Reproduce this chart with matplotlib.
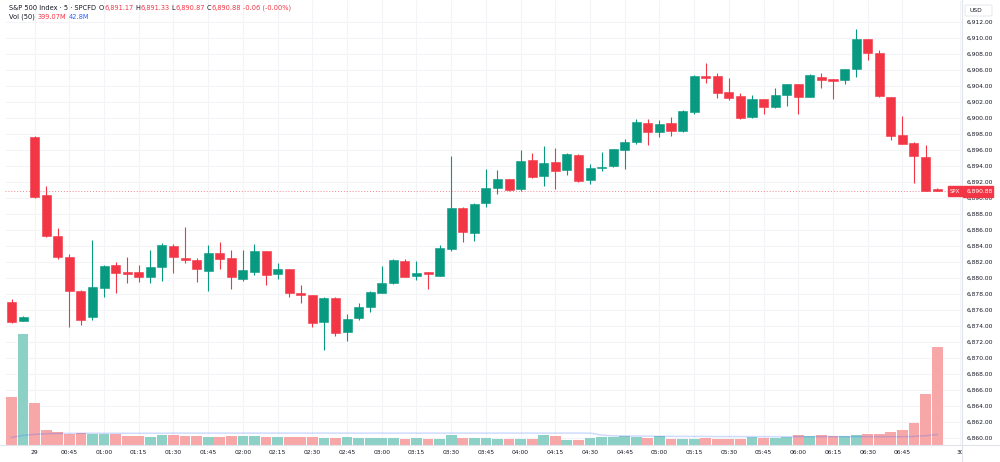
import matplotlib
matplotlib.use("Agg")
import matplotlib.pyplot as plt
from matplotlib.transforms import Bbox
from matplotlib.patches import FancyBboxPatch
import numpy as np

# ---------------- data ----------------
opens = [6877.07, 6874.70, 6897.70, 6890.45, 6885.25, 6882.63, 6878.38, 6875.13, 6878.75, 6881.63,
         6880.83, 6880.75, 6880.20, 6881.45, 6884.08, 6882.54, 6882.33, 6880.91, 6883.13, 6882.50,
         6879.88, 6880.83, 6883.41, 6880.50, 6881.13, 6878.16, 6877.91, 6874.58, 6877.50, 6873.33,
         6875.00, 6876.41, 6878.20, 6879.38, 6882.16, 6880.29, 6880.75, 6880.29, 6883.70, 6888.83,
         6885.63, 6889.38, 6891.29, 6892.38, 6891.13, 6894.79, 6892.83, 6894.58, 6893.54, 6895.41,
         6892.29, 6893.75, 6894.00, 6896.04, 6897.00, 6899.41, 6898.33, 6899.38, 6898.41, 6900.83,
         6905.33, 6905.29, 6903.25, 6902.75, 6900.13, 6902.38, 6901.38, 6902.95, 6904.29, 6902.70,
         6905.20, 6904.88, 6904.75, 6906.13, 6909.88, 6908.13, 6902.66, 6897.95, 6896.88, 6895.20,
         6891.17]
highs = [6877.40, 6875.30, 6897.80, 6891.54, 6886.29, 6883.04, 6878.54, 6884.79, 6881.60, 6882.04,
         6882.63, 6881.63, 6883.54, 6884.45, 6884.29, 6886.41, 6882.50, 6884.16, 6884.50, 6883.54,
         6883.54, 6884.29, 6883.45, 6881.88, 6881.20, 6879.16, 6877.95, 6877.70, 6877.70, 6875.54,
         6876.95, 6878.35, 6881.54, 6882.41, 6882.41, 6882.16, 6880.80, 6884.16, 6895.29, 6888.90,
         6889.40, 6893.66, 6893.54, 6892.45, 6896.04, 6895.63, 6896.50, 6896.29, 6895.66, 6895.50,
         6894.29, 6895.79, 6896.20, 6897.41, 6899.88, 6899.88, 6899.79, 6900.13, 6901.00, 6905.41,
         6906.88, 6905.63, 6905.00, 6903.13, 6902.91, 6902.45, 6903.75, 6904.35, 6904.35, 6905.50,
         6905.63, 6904.95, 6906.20, 6911.16, 6909.95, 6908.54, 6902.70, 6900.33, 6897.08, 6896.66,
         6891.33]
lows = [6874.45, 6874.60, 6890.10, 6885.10, 6882.37, 6873.95, 6874.16, 6874.79, 6877.70, 6878.13,
        6879.45, 6879.58, 6879.45, 6879.70, 6880.70, 6881.95, 6879.54, 6878.45, 6881.16, 6878.63,
        6879.60, 6880.41, 6879.16, 6879.88, 6877.70, 6876.88, 6873.95, 6871.04, 6872.83, 6872.20,
        6874.79, 6875.83, 6878.10, 6879.29, 6880.15, 6879.79, 6878.63, 6880.25, 6883.45, 6884.58,
        6884.70, 6888.95, 6890.54, 6890.91, 6890.95, 6892.60, 6891.54, 6891.20, 6892.91, 6892.10,
        6891.79, 6893.41, 6893.95, 6893.63, 6896.75, 6896.66, 6897.63, 6897.83, 6898.35, 6900.50,
        6904.38, 6902.58, 6902.29, 6899.95, 6900.00, 6900.54, 6901.25, 6901.58, 6900.54, 6902.65,
        6903.75, 6902.41, 6904.25, 6905.20, 6907.29, 6902.63, 6897.29, 6896.75, 6891.95, 6890.90,
        6890.87]
closes = [6874.57, 6875.20, 6890.20, 6885.33, 6882.66, 6878.38, 6874.75, 6878.88, 6881.54, 6880.63,
          6880.58, 6880.13, 6881.38, 6884.16, 6882.66, 6882.25, 6881.13, 6883.20, 6882.38, 6880.13,
          6881.00, 6883.41, 6880.41, 6881.13, 6878.20, 6877.88, 6874.45, 6877.50, 6873.20, 6874.88,
          6876.38, 6878.29, 6879.45, 6882.29, 6880.20, 6880.70, 6880.50, 6883.75, 6888.75, 6885.83,
          6889.29, 6891.25, 6892.41, 6891.04, 6894.70, 6892.70, 6894.45, 6893.45, 6895.54, 6892.20,
          6893.75, 6893.95, 6896.13, 6897.08, 6899.50, 6898.25, 6899.25, 6898.45, 6900.91, 6905.33,
          6905.08, 6903.20, 6902.50, 6900.00, 6902.38, 6901.38, 6902.91, 6904.29, 6902.70, 6905.41,
          6904.79, 6904.66, 6906.16, 6909.88, 6908.13, 6902.79, 6897.79, 6896.79, 6895.29, 6890.94,
          6890.88]
volumes_m = [197, 452, 172, 60, 52, 45, 48, 46, 45, 45,
             37, 37, 34, 39.5, 41, 37, 35, 34, 31, 35,
             35, 37, 31, 31, 31, 31, 34, 30, 30, 33,
             28.6, 28.6, 28.6, 28.6, 26, 30, 24.5, 26, 41, 30,
             28.6, 29, 24.5, 24.5, 24.5, 24.5, 41, 35, 22, 22,
             28.6, 31, 31, 35, 33, 28.6, 35, 26, 24.5, 26,
             30, 26, 26, 26, 31, 30, 30, 31, 39.5, 37,
             39.5, 37, 35, 39.5, 43.6, 43.6, 53, 61, 90, 208, 399.07]
vol_ma_m = [31, 39.5, 43.5, 46, 47, 47.5, 48, 48, 48, 48,
            48, 48, 48, 48, 48.5, 48.5, 48.5, 48.5, 48.5, 48.5,
            48.5, 48.5, 48.5, 48.5, 48.5, 48.5, 48.5, 48.5, 48.5, 48.5,
            48.5, 48.5, 48.5, 48.5, 48.5, 48.5, 48.5, 48.5, 48.5, 48.5,
            48.5, 48.5, 48.5, 48.5, 48.5, 48.5, 48.5, 48.5, 48.5, 48.5,
            48.5, 40.5, 37.5, 37, 36.5, 36, 35.5, 35.5, 35, 35,
            35, 34.5, 34.5, 34.5, 34.5, 34, 34, 34, 34, 34,
            34, 34, 34, 34, 34, 34, 34, 34, 35, 38, 42.8]
time_tick_idx = [2, 5, 8, 11, 14, 17, 20, 23, 26, 29, 32, 35, 38, 41, 44, 47, 50, 53, 56,
                 59, 62, 65, 68, 71, 74, 77, 82]
time_tick_labels = ["29", "00:45", "01:00", "01:15", "01:30", "01:45", "02:00", "02:15", "02:30",
                    "02:45", "03:00", "03:15", "03:30", "03:45", "04:00", "04:15", "04:30", "04:45",
                    "05:00", "05:15", "05:30", "05:45", "06:00", "06:15", "06:30", "06:45", "30"]
price_ticks = list(range(6860, 6913, 2))
last_price = 6890.88

# ---------------- style ----------------
W, H = 1000, 462
GREEN = "#089981"
RED = "#F23645"
TXT = "#131722"
GRID = "#F3F4F7"
FS = 4.3
plt.rcParams["font.family"] = ["DejaVu Sans"]

fig = plt.figure(figsize=(W / 100, H / 100), dpi=100)
fig.patch.set_facecolor("white")

L, R, T, B = 5, 962, 0, 445
rect = [L / W, 1 - B / H, (R - L) / W, (B - T) / H]
axv = fig.add_axes(rect)               # volume (back)
ax = fig.add_axes(rect, sharex=axv)    # price (front)
ax.patch.set_visible(False)

xmin, xmax = -0.562, 82.15
ymin, ymax = 6859.16, 6914.79
ax.set_xlim(xmin, xmax)
ax.set_ylim(ymin, ymax)
axv.set_ylim(0, (B - T) * 4.085)

for a in (ax, axv):
    for s in a.spines.values():
        s.set_visible(False)
    a.set_xticks([])
    a.set_yticks([])

n = len(opens)
x = np.arange(n)
o = np.array(opens); c = np.array(closes); hi = np.array(highs); lo = np.array(lows)
up = c >= o
cols = np.where(up, GREEN, RED)

# grid (behind volume)
axv.hlines(price_ticks, xmin, xmax, transform=ax.transData, colors=GRID, lw=0.8, zorder=0)
axv.vlines(time_tick_idx, 0, 1, transform=axv.get_xaxis_transform(), colors=GRID, lw=0.8, zorder=0)

# volume
vcols = np.where(up, "#8DD1C6", "#F7A7A8")
axv.bar(x, volumes_m, width=0.93, color=vcols, zorder=2, linewidth=0)
axv.plot(x, vol_ma_m, color="#2962FF", alpha=0.22, lw=1.1, zorder=3)

# current price dotted line
ax.axhline(last_price, color=RED, lw=0.7, ls=(0, (1, 2)), alpha=0.6, zorder=1)

# candles
ax.vlines(x, lo, hi, colors=cols, lw=0.8, zorder=3)
body_lo = np.minimum(o, c)
body_h = np.maximum(np.abs(c - o), 0.13)
ax.bar(x, body_h, bottom=body_lo, width=0.78, color=cols, edgecolor=cols, lw=0.4, zorder=4)

# axis separators
fig.add_artist(plt.Line2D([R / W, R / W], [0, 1], color="#E0E3EB", lw=0.8))
fig.add_artist(plt.Line2D([0, 1], [1 - B / H, 1 - B / H], color="#E0E3EB", lw=0.8))

# price axis labels
for p in price_ticks:
    ypx = T + (ymax - p) / (ymax - ymin) * (B - T)
    fig.text(967 / W, 1 - ypx / H, f"{p:,.2f}", fontsize=FS, color=TXT, va="center", ha="left")

# time labels
clip = Bbox.from_extents(0, 0, R, H)
for i, lab in zip(time_tick_idx, time_tick_labels):
    xpx = L + (i - xmin) / (xmax - xmin) * (R - L)
    t = fig.text(xpx / W, 1 - 452.5 / H, lab, fontsize=FS, color=TXT, va="center", ha="center")
    if lab == "30":
        t.set_clip_box(clip)
        t.set_clip_on(True)

# last price tag
ypx = T + (ymax - last_price) / (ymax - ymin) * (B - T)
fig.patches.append(plt.Rectangle((963 / W, 1 - (ypx + 5.5) / H), 30 / W, 11 / H,
                                 transform=fig.transFigure, color=RED, zorder=5))
fig.text(967 / W, 1 - ypx / H, f"{last_price:,.2f}", fontsize=FS, color="white",
         va="center", ha="left", zorder=6)
fig.patches.append(plt.Rectangle((948 / W, 1 - (ypx + 5) / H), 14 / W, 10 / H,
                                 transform=fig.transFigure, color=RED, zorder=5))
fig.text(955 / W, 1 - ypx / H, "SPX", fontsize=FS - 0.4, color="white",
         va="center", ha="center", zorder=6)

# USD box
fig.patches.append(FancyBboxPatch((965 / W, 1 - 16 / H), 27 / W, 11 / H,
                                  boxstyle="round,pad=0,rounding_size=0.002",
                                  transform=fig.transFigure, facecolor="white",
                                  edgecolor="#E0E3EB", lw=0.6, zorder=5))
fig.text(969 / W, 1 - 10.5 / H, "USD", fontsize=FS, color=TXT, va="center", ha="left", zorder=6)

# legend (chained text)
renderer = fig.canvas.get_renderer()


def chain(x0, ypx, parts, fs=FS + 0.5):
    xc = x0
    for txt, col, gap in parts:
        t = fig.text(xc / W, 1 - ypx / H, txt, fontsize=fs, color=col, va="center", ha="left")
        bb = t.get_window_extent(renderer)
        xc = bb.x1 + gap


chain(9, 8, [("S&P 500 Index · 5 · SPCFD", TXT, 3),
             ("O", TXT, 0), ("6,891.17", RED, 2),
             ("H", TXT, 0), ("6,891.33", RED, 2),
             ("L", TXT, 0), ("6,890.87", RED, 2),
             ("C", TXT, 0), ("6,890.88", RED, 2.5),
             ("-0.06 (-0.00%)", RED, 0)])
chain(9, 17, [("Vol (50)", TXT, 3), ("399.07M", RED, 2.5), ("42.8M", "#2962FF", 0)])

fig.savefig("out.png", dpi=100, facecolor="white")
